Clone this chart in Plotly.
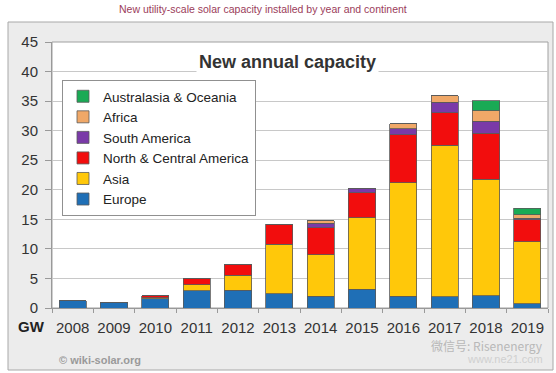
import plotly.graph_objects as go

years = ["2008", "2009", "2010", "2011", "2012", "2013", "2014", "2015", "2016", "2017", "2018", "2019"]
europe = [1.2, 0.9, 1.6, 2.9, 3.0, 2.4, 2.0, 3.2, 2.0, 1.9, 2.1, 0.7]
asia = [0.0, 0.0, 0.1, 1.0, 2.5, 8.4, 7.0, 12.1, 19.2, 25.6, 19.7, 10.5]
north_central_america = [0.0, 0.0, 0.4, 1.1, 1.9, 3.4, 4.6, 4.2, 8.1, 5.5, 7.8, 3.7]
south_america = [0.0, 0.0, 0.0, 0.0, 0.0, 0.0, 0.7, 0.7, 1.0, 1.8, 2.0, 0.3]
africa = [0.0, 0.0, 0.0, 0.0, 0.0, 0.0, 0.5, 0.0, 0.9, 1.1, 1.8, 0.6]
australasia = [0.0, 0.0, 0.0, 0.0, 0.0, 0.0, 0.0, 0.0, 0.0, 0.0, 1.7, 1.1]
y_ticks = [0, 5, 10, 15, 20, 25, 30, 35, 40, 45]

series = [
    ("Europe", europe, "#1f6fb6"),
    ("Asia", asia, "#ffc80a"),
    ("North & Central America", north_central_america, "#f20d0d"),
    ("South America", south_america, "#7a3aa8"),
    ("Africa", africa, "#f0a868"),
    ("Australasia & Oceania", australasia, "#1aaa55"),
]

FONT = "Liberation Sans, Arial, sans-serif"

fig = go.Figure()
for name, vals, col in series:
    fig.add_trace(go.Bar(
        name=name, x=years, y=vals, marker=dict(color=col, line=dict(color="#5a5a5a", width=0.8)),
        width=0.66,
    ))

# panel geometry (paper coords)
L, R, T, B = 52, 8, 42, 65
W, H = 556, 373
pw, ph = W - L - R, H - T - B

def px(x):
    return (x - L) / pw

def py(y):
    return (H - B - y) / ph

shapes = [
    dict(type="rect", xref="paper", yref="paper", x0=px(8), x1=px(553), y0=py(370), y1=py(22),
         fillcolor="#ececec", line=dict(color="#a8a8a8", width=1), layer="below"),
    dict(type="rect", xref="paper", yref="paper", x0=0, x1=1, y0=0, y1=1,
         fillcolor="#ffffff", line=dict(color="#a0a0a0", width=1), layer="below"),
]

annotations = [
    dict(text="New utility-scale solar capacity installed by year and continent", xref="paper", yref="paper",
         x=px(263), y=py(9), showarrow=False, font=dict(family=FONT, size=10.5, color="#9b3c5a"),
         xanchor="center", yanchor="middle"),
    dict(text="<b>New annual capacity</b>", xref="paper", yref="paper", x=px(287), y=py(62),
         showarrow=False, font=dict(family=FONT, size=18, color="#333333"), bgcolor="#ffffff",
         xanchor="center", yanchor="middle", borderpad=2),
    dict(text="<b>GW</b>", xref="paper", yref="paper", x=px(31), y=py(326), showarrow=False,
         font=dict(family=FONT, size=15, color="#222222"), xanchor="center", yanchor="middle"),
    dict(text="<b>© wiki-solar.org</b>", xref="paper", yref="paper", x=px(57), y=py(360), showarrow=False,
         font=dict(family=FONT, size=11, color="#9a9a9a"), xanchor="left", yanchor="middle"),
    dict(text="微信号: Risenenergy", xref="paper", yref="paper", x=px(545), y=py(345), showarrow=False,
         font=dict(family="Noto Sans CJK SC, sans-serif", size=12, color="#b8b8b8"), xanchor="right", yanchor="middle"),
    dict(text="www.ne21.com", xref="paper", yref="paper", x=px(545), y=py(359), showarrow=False,
         font=dict(family=FONT, size=11, color="#d0d0d0"), xanchor="right", yanchor="middle"),
]

fig.update_layout(
    width=W, height=H, barmode="stack", bargap=0.34,
    margin=dict(l=L, r=R, t=T, b=B, pad=0, autoexpand=False),
    paper_bgcolor="#ffffff", plot_bgcolor="rgba(0,0,0,0)",
    font=dict(family=FONT, color="#333333"),
    shapes=shapes, annotations=annotations,
    legend=dict(x=px(62), y=py(80), xanchor="left", yanchor="top", traceorder="reversed",
                bgcolor="#ffffff", bordercolor="#909090", borderwidth=1,
                font=dict(family=FONT, size=13.5, color="#222222"), itemwidth=30, tracegroupgap=0),
    xaxis=dict(type="category", showgrid=False, ticks="outside", tickson="boundaries", ticklen=4,
               tickcolor="#999999", showline=True, linecolor="#999999", linewidth=1, tickangle=0,
               automargin=False,
               tickfont=dict(family=FONT, size=15, color="#333333"), ticklabelstandoff=6),
    yaxis=dict(range=[0, 45], tickvals=y_ticks, showgrid=True, gridcolor="#c8c8c8", gridwidth=1,
               ticks="outside", ticklen=6, tickcolor="#999999", showline=True, linecolor="#999999",
               automargin=False,
               tickfont=dict(family=FONT, size=15, color="#333333"), ticklabelstandoff=4, zeroline=False),
    showlegend=True,
)

fig.write_html("out.html", config={"displayModeBar": False},
               post_script="document.body.style.margin='0';document.body.style.overflow='hidden';")
